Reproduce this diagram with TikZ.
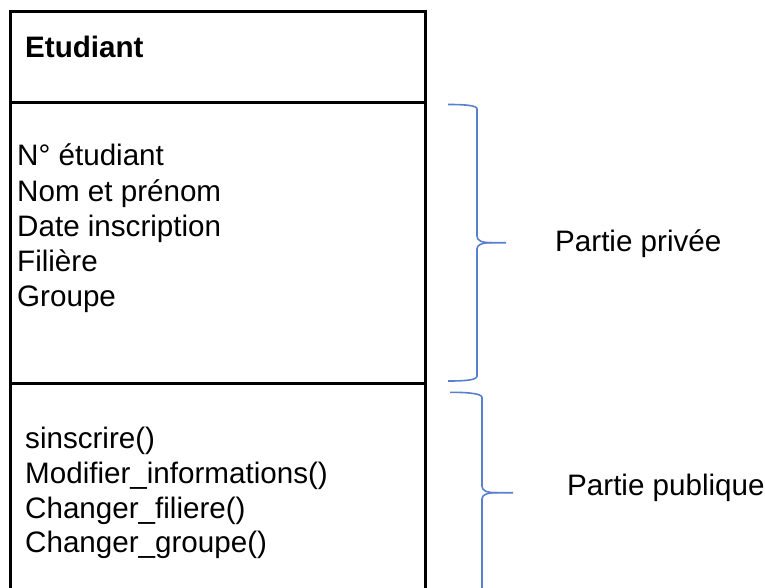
\documentclass[tikz,border=0pt]{standalone}
\usepackage{fontspec}
\setmainfont{Liberation Sans}
\definecolor{braceblue}{RGB}{88,128,206}
\tikzset{
  txt/.style={font=\fontsize{29.6}{35}\selectfont, inner sep=0pt, anchor=base west},
  titletxt/.style={txt, font=\fontsize{29.6}{35}\selectfont\bfseries},
  frame/.style={line width=3pt, draw=black},
  bracket/.style={line width=1.6pt, draw=braceblue, line join=round},
}
\begin{document}
\begin{tikzpicture}[x=1pt, y=-1pt]
  \useasboundingbox (0,0) rectangle (765,588);

  % class box (open at the bottom, runs past the page edge)
  \draw[frame] (10,592) -- (10,12) -- (425,12) -- (425,592);
  \draw[frame] (10,103) -- (425,103);
  \draw[frame] (10,383) -- (425,383);

  % class name
  \node[titletxt] (name) at (25,58) {Etudiant};

  % attributes
  \node[txt] (a1) at (17,166) {N° étudiant};
  \node[txt] (a2) at (17,201) {Nom et prénom};
  \node[txt] (a3) at (17,236) {Date inscription};
  \node[txt] (a4) at (17,271) {Filière};
  \node[txt] (a5) at (17,306) {Groupe};

  % methods
  \node[txt] (m1) at (25,448) {sinscrire()};
  \node[txt] (m2) at (25,483) {Modifier\_informations()};
  \node[txt] (m3) at (25,518) {Changer\_filiere()};
  \node[txt] (m4) at (25,552) {Changer\_groupe()};

  % brace for the private part
  \draw[bracket] (448,104.5) .. controls (466,104.5) and (477,105.5) .. (477,109)
    -- (477,236) .. controls (477,241) and (482,242.7) .. (492,242.7) -- (506,242.7);
  \draw[bracket] (492,242.7) .. controls (482,242.7) and (477,244.5) .. (477,249)
    -- (477,376) .. controls (477,380) and (466,381) .. (448,381);
  \node[txt] (priv) at (555,251.5) {Partie privée};

  % brace for the public part
  \draw[bracket] (450,392.3) .. controls (468,392.3) and (482,393.5) .. (482,397.5)
    -- (482,486) .. controls (482,491) and (487,492.7) .. (497,492.7) -- (513,492.7);
  \draw[bracket] (497,492.7) .. controls (487,492.7) and (482,494.5) .. (482,499)
    -- (482,592);
  \node[txt] (pub) at (567,495) {Partie publique};
\end{tikzpicture}
\end{document}
